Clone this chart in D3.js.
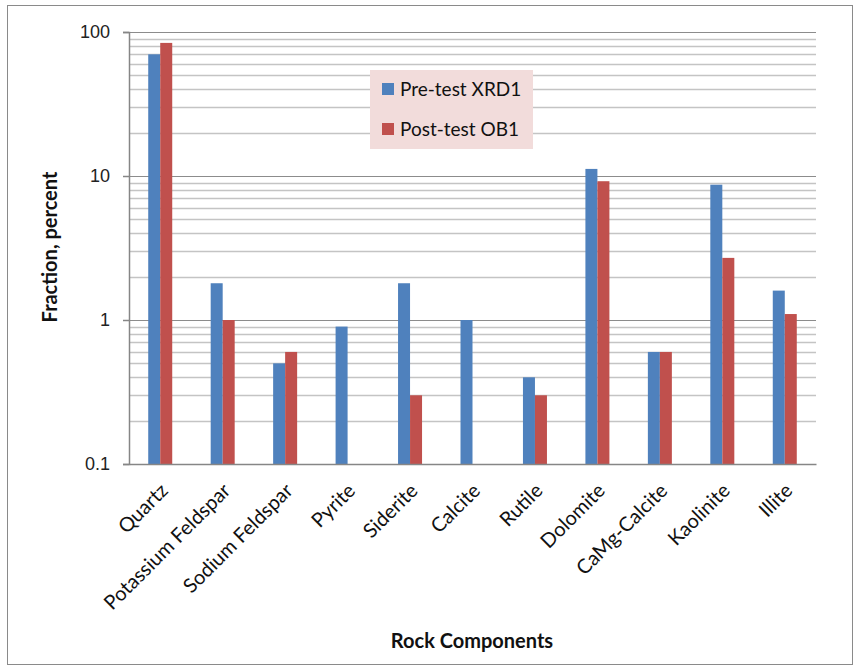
<!DOCTYPE html>
<html>
<head>
<meta charset="utf-8">
<script src="https://cdn.jsdelivr.net/npm/d3@7"></script>
<style>
  body { margin: 0; background: #fff; }
  svg { display: block; }
</style>
</head>
<body>
<div id="chart"></div>
<script>
// Chart data
var categories = ["Quartz", "Potassium Feldspar", "Sodium Feldspar", "Pyrite", "Siderite",
  "Calcite", "Rutile", "Dolomite", "CaMg-Calcite", "Kaolinite", "Illite"];
var seriesNames = ["Pre-test XRD1", "Post-test OB1"];
var preTest = [70, 1.8, 0.5, 0.9, 1.8, 1.0, 0.4, 11.2, 0.6, 8.7, 1.6];
var postTest = [84, 1.0, 0.6, null, 0.3, null, 0.3, 9.2, 0.6, 2.7, 1.1];
var yTickLabels = ["0.1", "1", "10", "100"];
var colors = ["#4f81bd", "#c0504d"];

var svgWidth = 861;
var svgHeight = 670;

var plot = { left: 129, right: 816, top: 32, bottom: 464 };

var svg = d3.select("#chart")
  .append("svg")
  .attr("width", svgWidth)
  .attr("height", svgHeight);

// outer frame
svg.append("rect")
  .attr("x", 7.5).attr("y", 5.5)
  .attr("width", 845).attr("height", 659)
  .attr("fill", "#fff")
  .attr("stroke", "#8a8a8a")
  .attr("stroke-width", 1);

var yScale = d3.scaleLog()
  .domain([0.1, 100])
  .range([plot.bottom, plot.top]);

var x0 = d3.scaleBand()
  .domain(categories)
  .range([plot.left, plot.right]);

var bw = x0.bandwidth();
var x1 = d3.scaleBand()
  .domain(seriesNames)
  .range([bw / 2 - 12, bw / 2 + 12]);

// gridlines
var gridTicks = yScale.ticks();
var isMajor = function (t) {
  return Math.abs(Math.log10(t) - Math.round(Math.log10(t))) < 1e-9;
};

svg.append("g")
  .selectAll("line")
  .data(gridTicks.filter(function (t) { return !isMajor(t); }))
  .enter()
  .append("line")
  .attr("x1", plot.left).attr("x2", plot.right)
  .attr("y1", function (d) { return Math.round(yScale(d)) + 0.5; })
  .attr("y2", function (d) { return Math.round(yScale(d)) + 0.5; })
  .attr("stroke", "#c4c4c4")
  .attr("stroke-width", 1.5);

svg.append("g")
  .selectAll("line")
  .data(gridTicks.filter(isMajor))
  .enter()
  .append("line")
  .attr("x1", plot.left).attr("x2", plot.right)
  .attr("y1", function (d) { return Math.round(yScale(d)) + 0.5; })
  .attr("y2", function (d) { return Math.round(yScale(d)) + 0.5; })
  .attr("stroke", "#8c8c8c")
  .attr("stroke-width", 1.2);

// y axis
var leftAxis = d3.axisLeft(yScale)
  .tickValues([0.1, 1, 10, 100])
  .tickFormat(function (d, i) { return yTickLabels[i]; })
  .tickSize(6)
  .tickPadding(13);

var yAxisG = svg.append("g")
  .attr("transform", "translate(" + plot.left + ",0)")
  .call(leftAxis);
yAxisG.select(".domain").attr("stroke", "#868686").attr("stroke-width", 1.5);
yAxisG.selectAll(".tick line").attr("stroke", "#868686").attr("stroke-width", 1.5);
yAxisG.selectAll("text")
  .attr("font-family", "Liberation Sans, Arial, sans-serif")
  .attr("font-size", 18)
  .attr("fill", "#222");

// bars
var rows = categories.map(function (c, i) {
  return { cat: c, values: [preTest[i], postTest[i]] };
});

var groups = svg.append("g")
  .selectAll("g")
  .data(rows)
  .enter()
  .append("g")
  .attr("transform", function (d) { return "translate(" + x0(d.cat) + ",0)"; });

groups.selectAll("rect")
  .data(function (d) {
    return d.values.map(function (v, j) { return { name: seriesNames[j], value: v, j: j }; })
      .filter(function (e) { return e.value != null; });
  })
  .enter()
  .append("rect")
  .attr("x", function (d) { return x1(d.name); })
  .attr("width", x1.bandwidth())
  .attr("y", function (d) { return yScale(d.value); })
  .attr("height", function (d) { return plot.bottom - yScale(d.value); })
  .attr("fill", function (d) { return colors[d.j]; });

// x axis
var bottomAxis = d3.axisBottom(x0).tickSize(0).tickFormat("");
var xAxisG = svg.append("g")
  .attr("transform", "translate(0," + plot.bottom + ")")
  .call(bottomAxis);
xAxisG.select(".domain").attr("stroke", "#868686").attr("stroke-width", 1.5);

svg.append("g")
  .selectAll("text")
  .data(categories)
  .enter()
  .append("text")
  .attr("transform", function (d) {
    return "translate(" + (x0(d) + bw / 2 - 1) + "," + (plot.bottom + 18) + ") rotate(-45)";
  })
  .attr("text-anchor", "end")
  .attr("dy", "0.7em")
  .attr("font-family", "Lato, Open Sans, sans-serif")
  .attr("font-size", 20)
  .attr("fill", "#111")
  .text(function (d) { return d; });

// axis titles
svg.append("text")
  .attr("transform", "translate(57,247) rotate(-90)")
  .attr("text-anchor", "middle")
  .attr("font-family", "Lato, Open Sans, sans-serif")
  .attr("font-weight", "bold")
  .attr("font-size", 20)
  .attr("fill", "#111")
  .text("Fraction, percent");

svg.append("text")
  .attr("x", 472)
  .attr("y", 648)
  .attr("text-anchor", "middle")
  .attr("font-family", "Lato, Open Sans, sans-serif")
  .attr("font-weight", "bold")
  .attr("font-size", 20)
  .attr("fill", "#111")
  .text("Rock Components");

// legend
var legend = svg.append("g").attr("transform", "translate(370,70)");
legend.append("rect")
  .attr("width", 163).attr("height", 79)
  .attr("fill", "#f2dcdb");

var legendItems = legend.selectAll("g.item")
  .data(seriesNames)
  .enter()
  .append("g")
  .attr("class", "item")
  .attr("transform", function (d, i) { return "translate(12," + (13 + i * 40) + ")"; });

legendItems.append("rect")
  .attr("width", 12).attr("height", 12)
  .attr("fill", function (d, i) { return colors[i]; });

legendItems.append("text")
  .attr("x", 18)
  .attr("y", 13)
  .attr("font-family", "Lato, Open Sans, sans-serif")
  .attr("font-size", 19)
  .attr("fill", "#111")
  .text(function (d) { return d; });
</script>
</body>
</html>
